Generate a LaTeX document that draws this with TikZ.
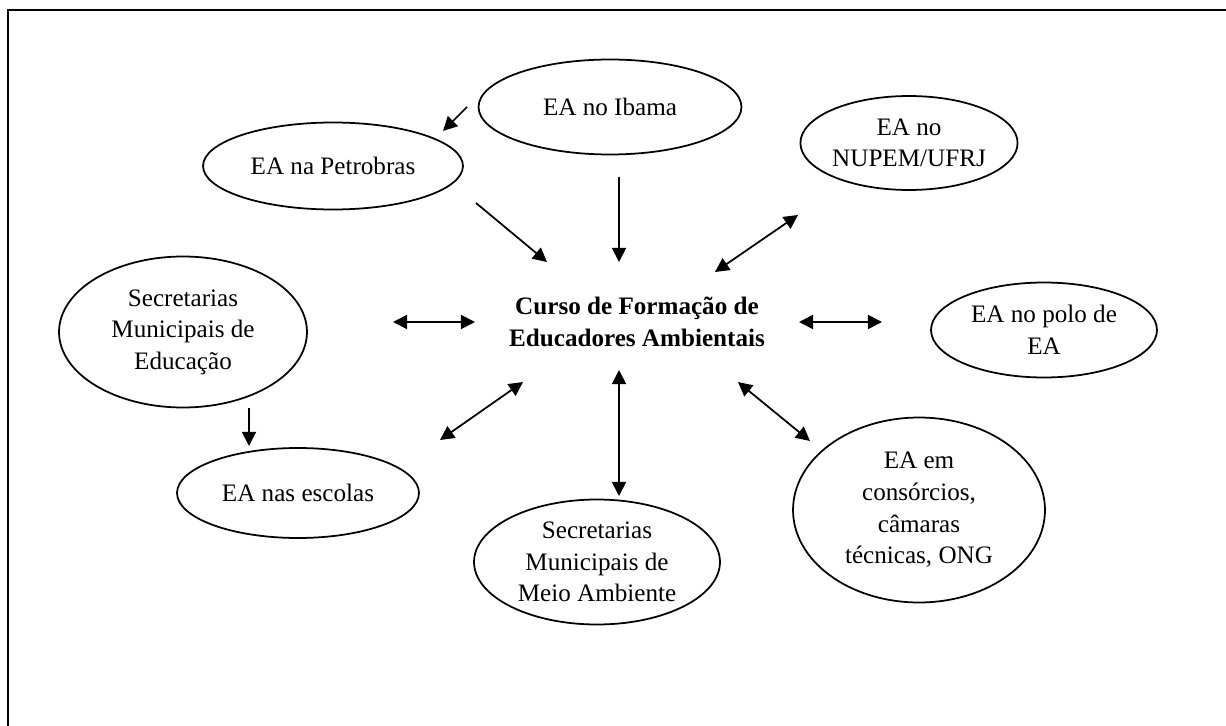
\documentclass[tikz,border=0pt]{standalone}
\usepackage{fontspec}
\setmainfont{Liberation Serif}
\usetikzlibrary{shapes.geometric,arrows.meta}
\begin{document}
\begin{tikzpicture}[x=0.02cm,y=-0.02cm,
  ell/.style={ellipse,draw,line width=1pt,inner sep=0pt,align=center,
    font=\fontsize{14.3}{18}\selectfont},
  conn/.style={line width=1pt,-{Triangle[length=8pt,width=8pt]}},
  biconn/.style={line width=1pt,{Triangle[length=8pt,width=8pt]}-{Triangle[length=8pt,width=8pt]}}]
\useasboundingbox (0,0) rectangle (1226,726);
\draw[line width=1.6pt] (8,726) -- (8,10) -- (1226,10);

\node[ell,minimum width=5.26cm,minimum height=1.9cm] (ibama) at (610,107) {EA no Ibama};
\node[ell,minimum width=5.2cm,minimum height=1.74cm] (petro) at (333,166) {EA na Petrobras};
\node[ell,minimum width=4.32cm,minimum height=1.88cm] (nupem) at (909,143) {EA no\\NUPEM/UFRJ};
\node[ell,minimum width=4.96cm,minimum height=3.02cm] (educ) at (183,332) {Secretarias\\Municipais de\\Educação};
\node[ell,minimum width=4.52cm,minimum height=1.9cm] (polo) at (1044,330) {EA no polo de\\EA};
\node[ell,minimum width=4.84cm,minimum height=1.8cm] (escolas) at (298,493) {EA nas escolas};
\node[ell,minimum width=5.04cm,minimum height=3.7cm] (cons) at (919,510) {EA em\\consórcios,\\câmaras\\técnicas, ONG};
\node[ell,minimum width=4.92cm,minimum height=2.5cm] (meio) at (597,562) {Secretarias\\Municipais de\\Meio Ambiente};
\node[align=center,font=\fontsize{14.3}{18}\selectfont\bfseries] (curso) at (637,322) {Curso de Formação de\\Educadores Ambientais};

\coordinate (a1s) at (467,107); \coordinate (a1e) at (443,131);
\coordinate (a2s) at (476,203); \coordinate (a2e) at (547,262);
\coordinate (a3s) at (619,177); \coordinate (a3e) at (619,262);
\coordinate (a4s) at (798,215); \coordinate (a4e) at (715,272);
\coordinate (a5s) at (393,322); \coordinate (a5e) at (475,322);
\coordinate (a6s) at (799,322); \coordinate (a6e) at (882,322);
\coordinate (a7s) at (440,440); \coordinate (a7e) at (523,382);
\coordinate (a8s) at (619,370); \coordinate (a8e) at (619,496);
\coordinate (a9s) at (738,382); \coordinate (a9e) at (810,441);
\coordinate (a10s) at (249,408); \coordinate (a10e) at (249,446);

\draw[conn] (a1s) -- (a1e);
\draw[conn] (a2s) -- (a2e);
\draw[conn] (a3s) -- (a3e);
\draw[biconn] (a4s) -- (a4e);
\draw[biconn] (a5s) -- (a5e);
\draw[biconn] (a6s) -- (a6e);
\draw[biconn] (a7s) -- (a7e);
\draw[biconn] (a8s) -- (a8e);
\draw[biconn] (a9s) -- (a9e);
\draw[conn] (a10s) -- (a10e);
\end{tikzpicture}
\end{document}
